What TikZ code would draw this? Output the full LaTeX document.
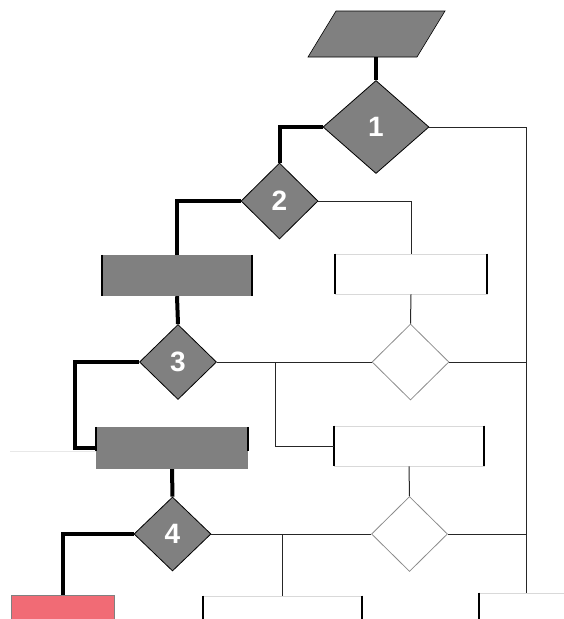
\documentclass[tikz,border=0pt]{standalone}
\usepackage{fontspec}
\setmainfont{Liberation Sans}
\usetikzlibrary{shapes.geometric}
\definecolor{boxgray}{RGB}{128,128,128}
\definecolor{stopred}{RGB}{241,107,117}
\definecolor{edgegray}{RGB}{217,217,217}

\begin{document}
\begin{tikzpicture}[x=1pt,y=-1pt,
    decision/.style={diamond,draw=black,line width=0.8pt,fill=boxgray,inner sep=0pt,
      text=white,font=\bfseries\fontsize{28}{28}\selectfont},
    blankdec/.style={diamond,draw=black!45,line width=0.8pt,inner sep=0pt},
    graybox/.style={rectangle,fill=boxgray,inner sep=0pt},
    whitebox/.style={rectangle,draw=edgegray,line width=0.8pt,inner sep=0pt},
    sidebar/.style={line width=2pt},
    mainline/.style={line width=4pt},
    sideline/.style={line width=1pt,black!85}]
      \useasboundingbox (0,0) rectangle (564,619);
      \clip (0,0) rectangle (564,619);
      % input (parallelogram)
      \filldraw[fill=boxgray,draw=black,line width=0.6pt] (336,11) -- (445,11) -- (417,57) -- (308,57) -- cycle;
      \coordinate (io) at (376,57);
      % decisions
      \node[decision,minimum width=106pt,minimum height=93pt] (d1) at (376,127) {1};
      \node[decision,minimum width=77pt,minimum height=76pt] (d2) at (279.5,201) {2};
      \node[decision,minimum width=77pt,minimum height=75pt] (d3) at (178,362) {3};
      \node[decision,minimum width=77pt,minimum height=74pt] (d4) at (172.5,534) {4};
      \node[blankdec,minimum width=77pt,minimum height=76pt] (w1) at (410.5,362) {};
      \node[blankdec,minimum width=76pt,minimum height=75pt] (w2) at (409.5,534) {};
      % process boxes
      \draw[edgegray!60,line width=0.8pt] (10,451) -- (96,451);
      \node[graybox,minimum width=150pt,minimum height=41pt] (g1) at (177,275.5) {};
      \node[graybox,minimum width=152pt,minimum height=42pt] (g2) at (172,448) {};
      \node[whitebox,minimum width=152pt,minimum height=40pt] (p1) at (411,274) {};
      \node[whitebox,minimum width=150pt,minimum height=40pt] (p2) at (409,446) {};
      \node[whitebox,minimum width=159pt,minimum height=40pt] (b1) at (282.5,616) {};
      \node[whitebox,minimum width=94pt,minimum height=40pt] (b3) at (526,613) {};
      \node[rectangle,fill=stopred,draw=boxgray,line width=1pt,inner sep=0pt,
        minimum width=103pt,minimum height=40pt] (r1) at (62.5,615) {};
      % side bars
      \foreach \b in {g1,p1,p2,b1}
        \draw[sidebar] (\b.north west) -- (\b.south west) (\b.north east) -- (\b.south east);
      \draw[sidebar] (g2.north west) -- ++(0,24) (g2.north east) -- ++(0,24);
      \draw[sidebar] (b3.north west) -- (b3.south west);
      % main path
      \draw[mainline] (io) -- (d1.north);
      \draw[mainline] (d1.west) -| (d2.north);
      \draw[mainline] (d2.west) -| (g1.north);
      \draw[mainline] (g1.south) -- (d3.north);
      \draw[mainline] (d3.west) -- ++(-64,0) |- (g2.west);
      \draw[mainline] (g2.south) -- (d4.north);
      \draw[mainline] (d4.west) -| (r1.north);
      % other branches
      \coordinate (j3) at (275,362);
      \draw[sideline] (d1.east) -| (b3.north);
      \draw[sideline] (d2.east) -| (p1.north);
      \draw[sideline] (p1.south) -- (w1.north);
      \draw[sideline] (w1.east) -- (w1.east -| b3.north);
      \draw[sideline] (d3.east) -- (w1.west);
      \draw[sideline] (j3) |- (p2.west);
      \draw[sideline] (p2.south) -- (w2.north);
      \draw[sideline] (d4.east) -- (w2.west);
      \draw[sideline] (d4.east -| b1.north) -- (b1.north);
      \draw[sideline] (w2.east) -- (w2.east -| b3.north);
    \end{tikzpicture}
\end{document}
